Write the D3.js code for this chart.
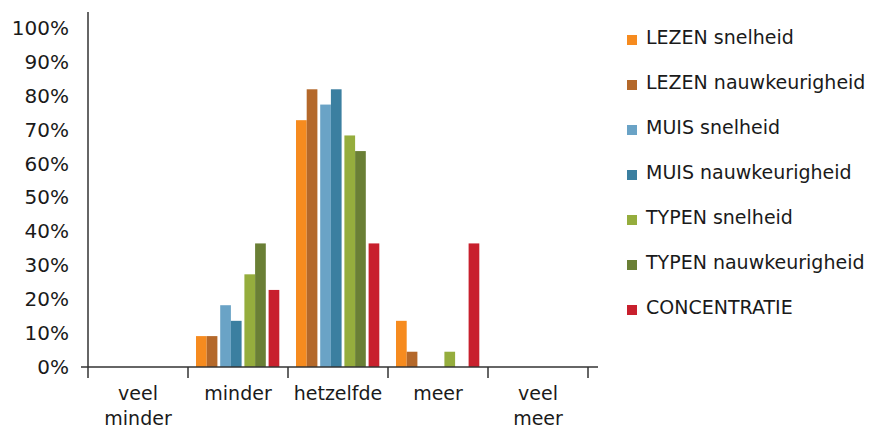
<!DOCTYPE html>
<html>
<head>
<meta charset="utf-8">
<script src="https://cdn.jsdelivr.net/npm/d3@7"></script>
<style>
    body { margin: 0; background: #fff; }
    text { font-family: "DejaVu Sans", sans-serif; fill: #1a1a1a; }
</style>
</head>
<body>
<div id="chart"></div>
<script>
// --- Data ---

const categories = ["veel minder", "minder", "hetzelfde", "meer", "veel meer"];
const seriesNames = [
    "LEZEN snelheid", "LEZEN nauwkeurigheid",
    "MUIS snelheid", "MUIS nauwkeurigheid",
    "TYPEN snelheid", "TYPEN nauwkeurigheid",
    "CONCENTRATIE"
];
// group each series belongs to (bars of one group stand side by side)
const seriesGroups = ["LEZEN", "LEZEN", "MUIS", "MUIS", "TYPEN", "TYPEN", "CONCENTRATIE"];
const seriesColors = ["#f68b1f", "#b4682a", "#6aa3c6", "#3b7fa0", "#95ad3d", "#6a7f35", "#c8202d"];

const lezenSnelheid = [0, 9.1, 72.7, 13.6, 0];
const lezenNauwkeurigheid = [0, 9.1, 81.8, 4.5, 0];
const muisSnelheid = [0, 18.2, 77.3, 0, 0];
const muisNauwkeurigheid = [0, 13.6, 81.8, 0, 0];
const typenSnelheid = [0, 27.3, 68.2, 4.5, 0];
const typenNauwkeurigheid = [0, 36.4, 63.6, 0, 0];
const concentratie = [0, 22.7, 36.4, 36.4, 0];

const seriesValues = [
    lezenSnelheid, lezenNauwkeurigheid,
    muisSnelheid, muisNauwkeurigheid,
    typenSnelheid, typenNauwkeurigheid,
    concentratie
];

const yTicks = [0, 10, 20, 30, 40, 50, 60, 70, 80, 90, 100];

// --- Layout ---

const width = 880;
const height = 426;

const svg = d3.select("#chart").append("svg")
    .attr("width", width)
    .attr("height", height);

const x = d3.scaleBand()
    .domain(categories)
    .range([88, 588]);

const y = d3.scaleLinear()
    .domain([0, 100])
    .range([367, 27.5]);

// pairs of bars inside a category; CONCENTRATIE uses only the first half of its slot
const groupNames = Array.from(new Set(seriesGroups));
const xGroup = d3.scaleBand()
    .domain(groupNames)
    .range([x.bandwidth() * 0.08, x.bandwidth() * 1.02])
    .paddingInner(0.116);

const xPair = d3.scaleBand()
    .domain([0, 1])
    .range([0, xGroup.bandwidth()]);

// index within its group
const pairIndex = seriesGroups.map((g, i) => seriesGroups.slice(0, i).filter(s => s === g).length);

// --- Bars ---

const bars = [];
seriesValues.forEach((vals, s) => {
    vals.forEach((v, c) => {
        bars.push({ series: s, category: categories[c], value: v });
    });
});

svg.append("g")
    .selectAll("rect")
    .data(bars.filter(d => d.value > 0))
    .enter().append("rect")
    .attr("x", d => x(d.category) + xGroup(seriesGroups[d.series]) + xPair(pairIndex[d.series]))
    .attr("y", d => y(d.value))
    .attr("width", xPair.bandwidth())
    .attr("height", d => y(0) - y(d.value))
    .attr("fill", d => seriesColors[d.series]);

// --- Axes ---

const axisColor = "#333";

// y axis line
svg.append("line")
    .attr("x1", 88).attr("x2", 88)
    .attr("y1", 12).attr("y2", y(0))
    .attr("stroke", axisColor)
    .attr("stroke-width", 1.5);

svg.append("g")
    .selectAll("text")
    .data(yTicks)
    .enter().append("text")
    .attr("x", 69)
    .attr("y", d => y(d))
    .attr("dy", "0.36em")
    .attr("text-anchor", "end")
    .style("font-size", "20px")
    .text(d => d + "%");

// x axis line
svg.append("line")
    .attr("x1", 81).attr("x2", 598)
    .attr("y1", y(0)).attr("y2", y(0))
    .attr("stroke", axisColor)
    .attr("stroke-width", 1.5);

const tickPositions = categories.map(c => x(c)).concat([x.range()[1]]);
svg.append("g")
    .selectAll("line")
    .data(tickPositions)
    .enter().append("line")
    .attr("x1", d => d).attr("x2", d => d)
    .attr("y1", y(0)).attr("y2", y(0) + 11)
    .attr("stroke", axisColor)
    .attr("stroke-width", 1.5);

const xLabels = svg.append("g")
    .selectAll("text")
    .data(categories)
    .enter().append("text")
    .attr("x", d => x(d) + x.bandwidth() / 2)
    .attr("y", 400)
    .attr("text-anchor", "middle")
    .style("font-size", "19px");

// two-word labels go on two lines
xLabels.each(function(d) {
    const words = d.split(" ");
    const t = d3.select(this);
    words.forEach((w, i) => {
        t.append("tspan")
            .attr("x", x(d) + x.bandwidth() / 2)
            .attr("dy", i === 0 ? 0 : 25)
            .text(w);
    });
});

// --- Legend ---

const legend = svg.append("g")
    .selectAll("g")
    .data(seriesNames)
    .enter().append("g")
    .attr("transform", (d, i) => `translate(627,${37 + i * 45})`);

legend.append("rect")
    .attr("x", 0)
    .attr("y", -2)
    .attr("width", 10)
    .attr("height", 10)
    .attr("fill", (d, i) => seriesColors[i]);

legend.append("text")
    .attr("x", 19)
    .attr("y", 0)
    .attr("dy", "0.36em")
    .style("font-size", "19px")
    .text(d => d);
</script>
</body>
</html>
